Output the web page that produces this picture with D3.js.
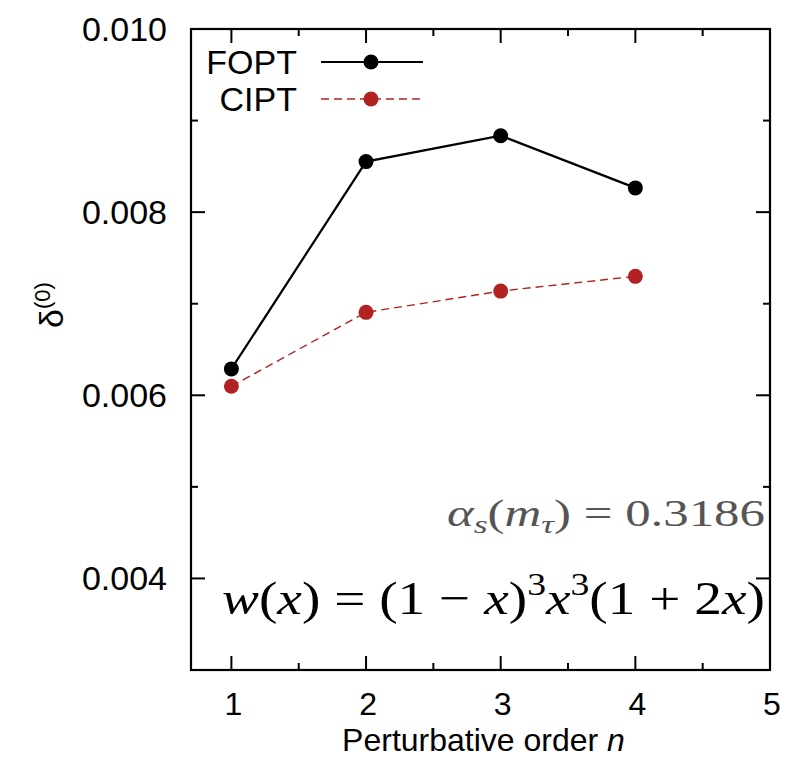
<!DOCTYPE html>
<html><head><meta charset="utf-8">
<script src="https://cdn.jsdelivr.net/npm/d3@7"></script>
<style>body{margin:0;background:#fff}</style>
</head><body>
<script>
const orders = [1, 2, 3, 4];
const fopt = [0.006288, 0.008552, 0.008835, 0.008265];
const cipt = [0.006098, 0.006906, 0.007138, 0.007299];
const xMajorTicks = [1, 2, 3, 4, 5];
const xMinorTicks = [1.5, 2.5, 3.5, 4.5];
const yMajorTicks = [0.004, 0.006, 0.008, 0.010];
const yMinorTicks = [0.003, 0.005, 0.007, 0.009];
const seriesNames = ["FOPT", "CIPT"];

const W = 798, H = 758;
const m = {left: 191, right: 28, top: 29, bottom: 88};
const svg = d3.select("body").append("svg").attr("width", W).attr("height", H);
const x = d3.scaleLinear().domain([0.7, 5]).range([m.left, W - m.right]);
const y = d3.scaleLinear().domain([0.003, 0.010]).range([H - m.bottom, m.top]);
const sans = "'Liberation Sans', Arial, Helvetica, sans-serif";
const serif = "'Liberation Serif', 'DejaVu Serif', serif";

const x0 = x.range()[0], x1 = x.range()[1], y0 = y.range()[0], y1 = y.range()[1];
const g = svg.append("g");
const major = 14, minor = 7;
function tickLines(vals, len, isX) {
  vals.forEach(v => {
    if (isX) {
      g.append("line").attr("x1", x(v)).attr("x2", x(v)).attr("y1", y0).attr("y2", y0 - len);
      g.append("line").attr("x1", x(v)).attr("x2", x(v)).attr("y1", y1).attr("y2", y1 + len);
    } else {
      g.append("line").attr("y1", y(v)).attr("y2", y(v)).attr("x1", x0).attr("x2", x0 + len);
      g.append("line").attr("y1", y(v)).attr("y2", y(v)).attr("x1", x1).attr("x2", x1 - len);
    }
  });
}
tickLines(xMajorTicks, major, true);
tickLines(xMinorTicks, minor, true);
tickLines(yMajorTicks, major, false);
tickLines(yMinorTicks, minor, false);
g.selectAll("line").attr("stroke", "#000").attr("stroke-width", 2);
svg.append("rect").attr("x", x0).attr("y", y1).attr("width", x1 - x0).attr("height", y0 - y1)
  .attr("fill", "none").attr("stroke", "#000").attr("stroke-width", 2.2);

svg.selectAll(".xl").data(xMajorTicks).enter().append("text")
  .attr("x", d => x(d) + 2).attr("y", y0 + 45).attr("text-anchor", "middle")
  .attr("font-family", sans).attr("font-size", 32).text(d => d);
svg.selectAll(".yl").data(yMajorTicks).enter().append("text")
  .attr("x", x0 - 24).attr("y", d => y(d) + 12).attr("text-anchor", "end")
  .attr("font-family", sans).attr("font-size", 34).text(d => d3.format(".3f")(d));

const xt = svg.append("text").attr("x", (x0 + x1) / 2 + 3).attr("y", 750.5).attr("text-anchor", "middle")
  .attr("font-family", sans).attr("font-size", 32);
xt.append("tspan").text("Perturbative order ");
xt.append("tspan").attr("font-style", "italic").text("n");

const yt = svg.append("text").attr("transform", "translate(63,305) rotate(-90)")
  .attr("text-anchor", "middle").attr("font-family", sans).attr("font-size", 34);
yt.append("tspan").text("δ");
yt.append("tspan").attr("font-size", 22).attr("dy", -13).text("(0)");

const data = [fopt, cipt];
const colors = ["#000000", "#b22222"];
const dashes = [null, "8,5"];
const widths = [2.2, 1.4];
const line = d3.line().x(d => x(d[0])).y(d => y(d[1]));
data.forEach((s, i) => {
  const pts = orders.map((o, j) => [o, s[j]]);
  svg.append("path").datum(pts).attr("d", line).attr("fill", "none")
    .attr("stroke", colors[i]).attr("stroke-width", widths[i]).attr("stroke-dasharray", dashes[i]);
  svg.selectAll(".p" + i).data(pts).enter().append("circle")
    .attr("cx", d => x(d[0])).attr("cy", d => y(d[1])).attr("r", 7.5).attr("fill", colors[i]);
});

seriesNames.forEach((name, i) => {
  const ly = 62 + i * 37;
  svg.append("text").attr("x", 297).attr("y", ly + 12).attr("text-anchor", "end")
    .attr("font-family", sans).attr("font-size", 34).text(name);
  svg.append("line").attr("x1", 321).attr("x2", 423).attr("y1", ly).attr("y2", ly)
    .attr("stroke", colors[i]).attr("stroke-width", widths[i]).attr("stroke-dasharray", dashes[i]);
  svg.append("circle").attr("cx", 371).attr("cy", ly).attr("r", 7.5).attr("fill", colors[i]);
});

const a1 = svg.append("text").attr("x", 447).attr("y", 526)
  .attr("font-family", serif).attr("font-size", 37).attr("fill", "#555")
  .attr("textLength", 318).attr("lengthAdjust", "spacingAndGlyphs");
a1.append("tspan").attr("font-style", "italic").text("α");
a1.append("tspan").attr("font-style", "italic").attr("font-size", 26).attr("dy", 7).text("s");
a1.append("tspan").attr("dy", -7).text("(");
a1.append("tspan").attr("font-style", "italic").text("m");
a1.append("tspan").attr("font-style", "italic").attr("font-size", 26).attr("dy", 7).text("τ");
a1.append("tspan").attr("dy", -7).text(") = 0.3186");

const a2 = svg.append("text").attr("x", 222).attr("y", 614)
  .attr("font-family", serif).attr("font-size", 47).attr("fill", "#000")
  .attr("textLength", 543).attr("lengthAdjust", "spacingAndGlyphs");
a2.append("tspan").attr("font-style", "italic").text("w");
a2.append("tspan").text("(");
a2.append("tspan").attr("font-style", "italic").text("x");
a2.append("tspan").text(") = (1 − ");
a2.append("tspan").attr("font-style", "italic").text("x");
a2.append("tspan").text(")");
a2.append("tspan").attr("font-size", 32).attr("dy", -19).text("3");
a2.append("tspan").attr("font-style", "italic").attr("dy", 19).text("x");
a2.append("tspan").attr("font-size", 32).attr("dy", -19).text("3");
a2.append("tspan").attr("dy", 19).text("(1 + 2");
a2.append("tspan").attr("font-style", "italic").text("x");
a2.append("tspan").text(")");
</script>
</body></html>
